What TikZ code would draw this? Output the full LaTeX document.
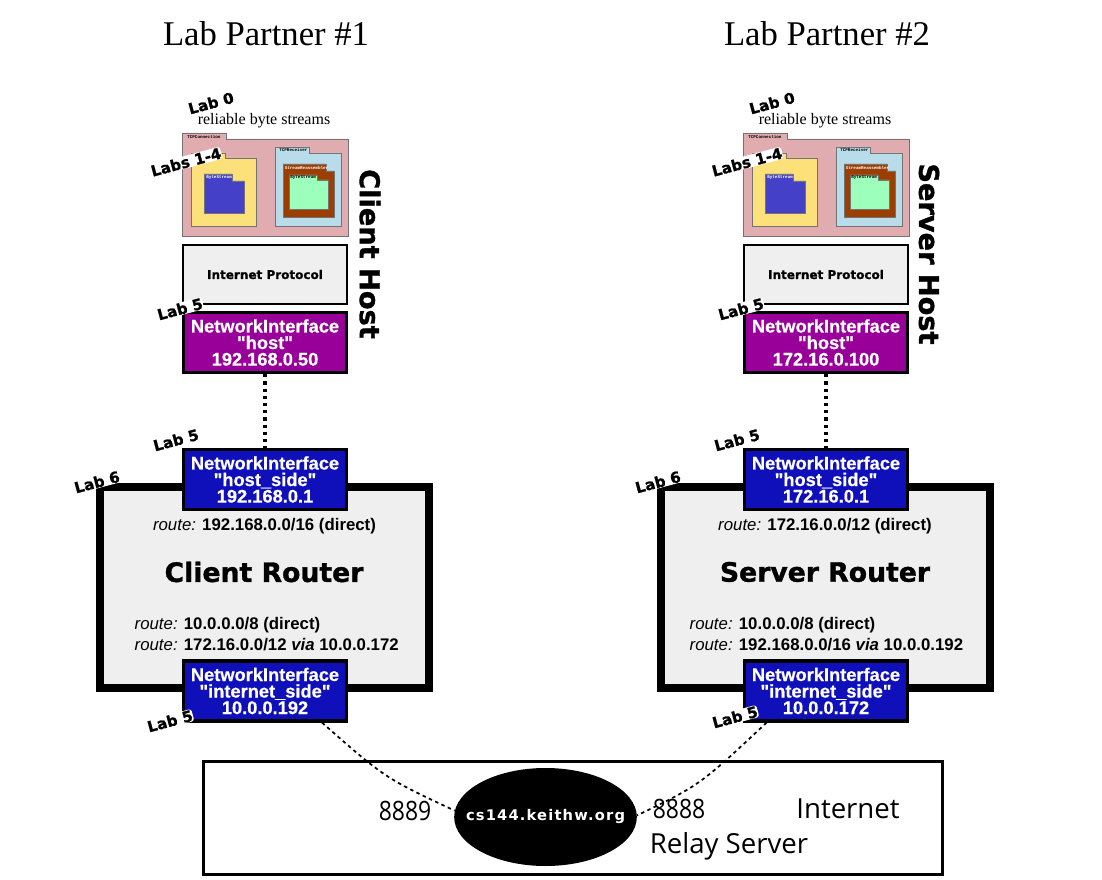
\documentclass[tikz,border=0pt]{standalone}
\usepackage{fontspec}
\usetikzlibrary{shapes.geometric}
\setmainfont{Liberation Serif}
\setmonofont{Liberation Mono}
\newfontfamily\armFont{Liberation Sans}
\newfontfamily\ifaceFont{Liberation Sans}[BoldFeatures={FakeBold=0.6}]
\newfontfamily\heavyFont{DejaVu Sans}[BoldFeatures={FakeBold=1.2}]
\newfontfamily\keithFont{DejaVu Sans}[LetterSpace=8]
\newfontfamily\relayFont{Open Sans}
\newfontfamily\portFont{Open Sans}[FakeStretch=0.86]

\definecolor{pinkFolder}{HTML}{E0ACB0}
\definecolor{yellowFolder}{HTML}{FCE07A}
\definecolor{blueFolder}{HTML}{4440C8}
\definecolor{skyFolder}{HTML}{B8DCEA}
\definecolor{brownFolder}{HTML}{9C3E00}
\definecolor{greenFolder}{HTML}{9CFFBC}
\definecolor{greyBox}{HTML}{EFEFEF}
\definecolor{hostPurple}{HTML}{990099}
\definecolor{routerBlue}{HTML}{1010BB}

\tikzstyle{titleNode} = [font=\fontsize{26}{30}\selectfont]
\tikzstyle{labNode} = [font=\heavyFont\bfseries\fontsize{11.3}{13}\selectfont, fill=white, rounded corners=2pt, inner sep=0.3pt, rotate=15]
\tikzstyle{tabNode} = [font=\ttfamily\bfseries\fontsize{3.2}{4}\selectfont, inner sep=0pt, anchor=west]
\tikzstyle{ipNode} = [rectangle, draw=black, line width=1.5pt, fill=greyBox, minimum width=123pt, minimum height=44pt, font=\heavyFont\bfseries\fontsize{9}{10}\selectfont]
\tikzstyle{ifaceNode} = [rectangle, draw=black, line width=2.4pt, minimum width=122.5pt, minimum height=45pt, inner sep=0pt, text=white, align=center, font=\ifaceFont\bfseries\fontsize{13.7}{12.4}\selectfont]
\tikzstyle{routerNode} = [rectangle, draw=black, line width=6pt, fill=greyBox, minimum width=246.5pt, minimum height=151pt]
\tikzstyle{hostName} = [font=\heavyFont\bfseries\fontsize{20.4}{22}\selectfont, rotate=-90]
\tikzstyle{routerName} = [font=\heavyFont\bfseries\fontsize{20}{22}\selectfont]
\tikzstyle{routeNode} = [font=\armFont\fontsize{12.6}{15.8}\selectfont, align=left]
\tikzstyle{relayNode} = [font=\relayFont\fontsize{20.7}{24}\selectfont]
\tikzstyle{portNode} = [font=\portFont\fontsize{20}{24}\selectfont]
\tikzstyle{wireDots} = [line width=2.4pt, dash pattern=on 2.4pt off 3pt]
\tikzstyle{wireDash} = [line width=1.3pt, dash pattern=on 2.6pt off 2.6pt]

% tab left, tab top, tab right, body top, body right, body bottom, fill
\newcommand{\folder}[7]{\draw[draw=black!55, line width=0.7pt, fill=#7] (#1,#2) -- (#3,#2) -- (#3,#4) -- (#5,#4) -- (#5,#6) -- (#1,#6) -- cycle;}
\newcommand{\route}{{\itshape route:}}

\begin{document}
\begin{tikzpicture}[x=0.75pt,y=-0.75pt]
    \useasboundingbox (0,0) rectangle (1102,880);

    \node (titleA)[titleNode] at (266,34) {Lab Partner \#1};
    \node (titleB)[titleNode] at (827,34) {Lab Partner \#2};

    % client host
    \folder{182}{133}{226}{139}{348}{236}{pinkFolder}
    \folder{191}{153}{225}{158}{256}{226}{yellowFolder}
    \folder{204}{174}{232}{181}{244}{213}{blueFolder}
    \folder{275}{147}{309}{153}{341}{226}{skyFolder}
    \folder{283}{164}{326}{171}{334}{217}{brownFolder}
    \folder{289}{175}{317}{180}{328}{209}{greenFolder}
    \node (connA)[tabNode] at (187,136.5) {TCPConnection};
    \node (recvA)[tabNode] at (279,150) {TCPReceiver};
    \node (bsA)[tabNode,text=white] at (206,177.5) {ByteStream};
    \node (reasmA)[tabNode,text=white] at (284.5,167.5) {StreamReassembler};
    \node (bsrA)[tabNode] at (290,178) {ByteStream};
    \node (labZeroA)[labNode] at (211,103) {Lab 0};
    \node (byteA) at (264,121) {\fontsize{12}{14}\selectfont reliable byte streams};
    \node (labsA)[labNode] at (186,162) {Labs 1-4};
    \node (ipA)[ipNode] at (265,274.5) {Internet Protocol};
    \node (hostA)[ifaceNode,fill=hostPurple] at (265,342.5) {NetworkInterface\\"host"\\192.168.0.50};
    \node (labHostA)[labNode] at (180,309) {Lab 5};
    \node (nameA)[hostName] at (370,254) {Client Host};

    % client router
    \node (routerA)[routerNode] at (264.5,587.5) {};
    \node (sideA)[ifaceNode,fill=routerBlue] at (265,479.5) {NetworkInterface\\"host\_side"\\192.168.0.1};
    \node (inetA)[ifaceNode,fill=routerBlue] at (265,691) {NetworkInterface\\"internet\_side"\\10.0.0.192};
    \node (labSideA)[labNode] at (176,440) {Lab 5};
    \node (labRouterA)[labNode] at (97,482) {Lab 6};
    \node (labInetA)[labNode] at (170,721) {Lab 5};
    \node (routeOneA)[routeNode] at (264.5,526) {\route{} \textbf{192.168.0.0/16 (direct)}};
    \node (routerNameA)[routerName] at (264,572) {Client Router};
    \node (routeTwoA)[routeNode,anchor=west] at (130,634.5) {\route{} \textbf{10.0.0.0/8 (direct)}\\\route{} \textbf{172.16.0.0/12 \textit{via} 10.0.0.172}};

    % server host
    \folder{743}{133}{787}{139}{909}{236}{pinkFolder}
    \folder{752}{153}{786}{158}{817}{226}{yellowFolder}
    \folder{765}{174}{793}{181}{805}{213}{blueFolder}
    \folder{836}{147}{870}{153}{902}{226}{skyFolder}
    \folder{844}{164}{887}{171}{895}{217}{brownFolder}
    \folder{850}{175}{878}{180}{889}{209}{greenFolder}
    \node (connB)[tabNode] at (748,136.5) {TCPConnection};
    \node (recvB)[tabNode] at (840,150) {TCPReceiver};
    \node (bsB)[tabNode,text=white] at (767,177.5) {ByteStream};
    \node (reasmB)[tabNode,text=white] at (845.5,167.5) {StreamReassembler};
    \node (bsrB)[tabNode] at (851,178) {ByteStream};
    \node (labZeroB)[labNode] at (772,103) {Lab 0};
    \node (byteB) at (825,121) {\fontsize{12}{14}\selectfont reliable byte streams};
    \node (labsB)[labNode] at (747,162) {Labs 1-4};
    \node (ipB)[ipNode] at (826,274.5) {Internet Protocol};
    \node (hostB)[ifaceNode,fill=hostPurple] at (826,342.5) {NetworkInterface\\"host"\\172.16.0.100};
    \node (labHostB)[labNode] at (741,309) {Lab 5};
    \node (nameB)[hostName] at (929,254) {Server Host};

    % server router
    \node (routerB)[routerNode] at (825.5,587.5) {};
    \node (sideB)[ifaceNode,fill=routerBlue] at (826,479.5) {NetworkInterface\\"host\_side"\\172.16.0.1};
    \node (inetB)[ifaceNode,fill=routerBlue] at (826,691) {NetworkInterface\\"internet\_side"\\10.0.0.172};
    \node (labSideB)[labNode] at (737,440) {Lab 5};
    \node (labRouterB)[labNode] at (658,482) {Lab 6};
    \node (labInetB)[labNode] at (735,717) {Lab 5};
    \node (routeOneB)[routeNode] at (825,526) {\route{} \textbf{172.16.0.0/12 (direct)}};
    \node (routerNameB)[routerName] at (825,572) {Server Router};
    \node (routeTwoB)[routeNode,anchor=west] at (685,634.5) {\route{} \textbf{10.0.0.0/8 (direct)}\\\route{} \textbf{192.168.0.0/16 \textit{via} 10.0.0.192}};

    % relay server
    \node (relay)[rectangle,draw=black,line width=1.9pt,minimum width=554pt,minimum height=85pt] at (573,818) {};
    \node (keithw)[ellipse,fill=black,minimum width=137pt,minimum height=73.5pt,inner sep=0pt] at (545.5,817) {};
    \node (keithwText)[text=white,font=\keithFont\bfseries\fontsize{11}{12}\selectfont] at (545.5,817) {cs144.keithw.org};
    \node (portA)[portNode] at (405,811) {8889};
    \node (portB)[portNode] at (679,809) {8888};
    \node (inetLabel)[relayNode] at (848,809) {Internet};
    \node (relayLabel)[relayNode] at (729,846) {Relay Server};

    \draw [wireDots] (hostA) -- (sideA);
    \draw [wireDots] (hostB) -- (sideB);
    \draw [wireDash] (inetA.-29) .. controls (385,778) .. (keithw.176);
    \draw [wireDash] (inetB.208) .. controls (700,785) .. (keithw.1);

  \end{tikzpicture}
\end{document}
